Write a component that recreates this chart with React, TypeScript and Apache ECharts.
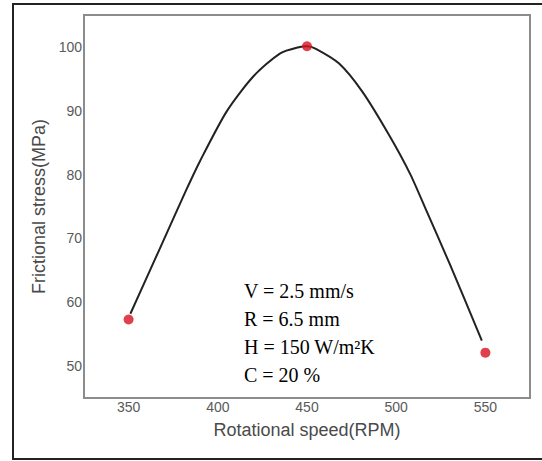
import React, { useEffect, useRef } from "react";
import * as echarts from "echarts";

const xTicks = [350, 400, 450, 500, 550];
const yTicks = [50, 60, 70, 80, 90, 100];

// measured points (red markers)
const speeds = [350, 450, 550];
const stress = [57.3, 100.1, 52.1];

// fitted curve
const curveSpeed = [351, 367, 382, 390, 405, 420, 435, 446, 450, 455, 468, 481, 496, 508, 517, 530, 548];
const curveStress = [58.2, 68.1, 77.4, 82.1, 89.9, 95.4, 99.0, 100.0, 100.1, 99.7, 97.4, 93.0, 86.2, 80.0, 74.3, 66.0, 54.0];

const annotations = ["V = 2.5 mm/s", "R = 6.5 mm", "H = 150 W/m²K", "C = 20 %"];

export default function App() {
  const ref = useRef<HTMLDivElement>(null);
  useEffect(() => {
    if (!ref.current) return;
    const chart = echarts.init(ref.current, undefined, { renderer: "svg" });
    const sans = "'Liberation Sans', Arial, sans-serif";
    chart.setOption({
      animation: false,
      backgroundColor: "#ffffff",
      grid: {
        left: 84,
        top: 15,
        right: 12,
        bottom: 63,
        show: true,
        borderColor: "#8c8c8c",
        borderWidth: 2,
        backgroundColor: "transparent",
      },
      xAxis: {
        type: "value",
        min: 325,
        max: 575,
        name: "Rotational speed(RPM)",
        nameLocation: "middle",
        nameGap: 23,
        nameTextStyle: { fontSize: 18, color: "#4a4a4a", fontFamily: sans },
        axisLine: { show: false },
        axisTick: { show: false, customValues: xTicks },
        splitLine: { show: false },
        axisLabel: { customValues: xTicks, margin: 2, fontSize: 14, color: "#5a5a5a", fontFamily: sans },
      },
      yAxis: {
        type: "value",
        min: 45,
        max: 105,
        name: "Frictional stress(MPa)",
        nameLocation: "middle",
        nameGap: 28,
        nameTextStyle: { fontSize: 18, color: "#4a4a4a", fontFamily: sans },
        axisLine: { show: false },
        axisTick: { show: false, customValues: yTicks },
        splitLine: { show: false },
        axisLabel: { customValues: yTicks, margin: 2, fontSize: 14, color: "#5a5a5a", fontFamily: sans },
      },
      series: [
        {
          type: "line",
          data: curveSpeed.map((x, i) => [x, curveStress[i]]),
          smooth: 0.25,
          showSymbol: false,
          symbol: "none",
          lineStyle: { color: "#222222", width: 2, join: "round" },
          z: 2,
        },
        {
          type: "scatter",
          data: speeds.map((x, i) => [x, stress[i]]),
          symbolSize: 10,
          itemStyle: { color: "#d8101e" },
          z: 3,
        },
      ],
      graphic: [
        {
          type: "rect",
          shape: { x: 13, y: 4, width: 600, height: 455 },
          style: { fill: "none", stroke: "#222222", lineWidth: 2 },
          silent: true,
          z: 10,
        },
        ...annotations.map((t, i) => ({
          type: "text",
          x: 244,
          y: 291 + i * 28,
          style: {
            text: t,
            fontSize: 20,
            fontFamily: "'Liberation Serif', 'Times New Roman', serif",
            fill: "#000000",
            textVerticalAlign: "middle",
            verticalAlign: "middle",
          },
          z: 10,
        })),
      ],
    });
    return () => chart.dispose();
  }, []);
  return (
    <div
      ref={ref}
      style={{ position: "fixed", left: 0, top: 0, width: 542, height: 461 }}
    />
  );
}
